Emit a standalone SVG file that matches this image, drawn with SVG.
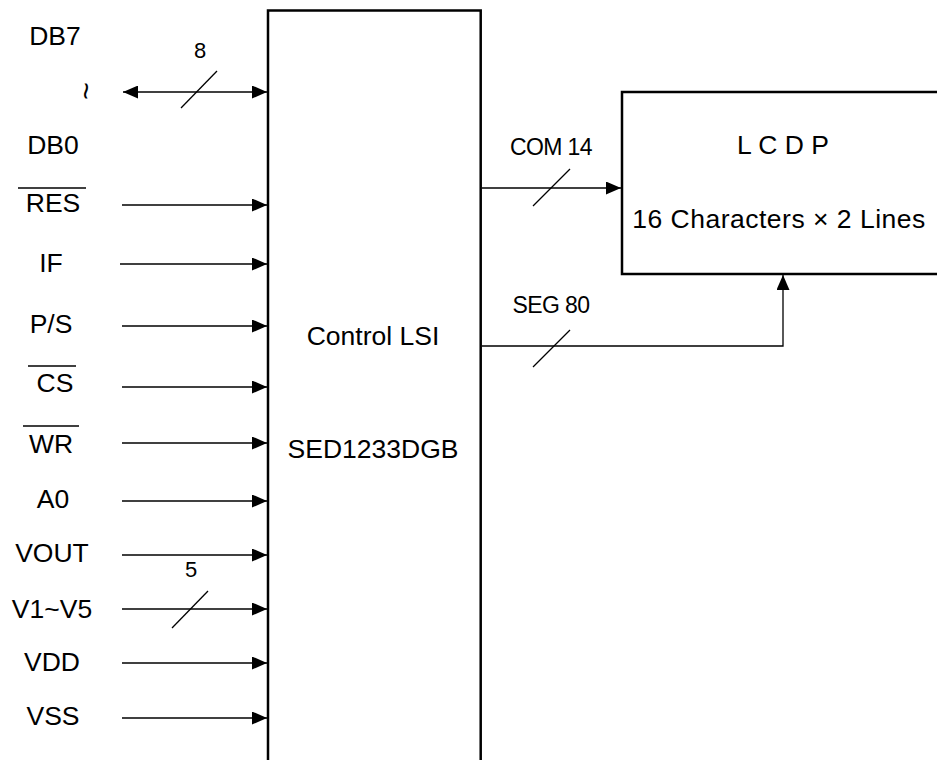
<svg xmlns="http://www.w3.org/2000/svg" width="937" height="760" viewBox="0 0 937 760">
<defs>
<marker id="ah" viewBox="0 0 15 13" refX="15" refY="6.5" markerWidth="15" markerHeight="13" markerUnits="userSpaceOnUse" orient="auto-start-reverse">
<path d="M0,0 L15,6.5 L0,13 Z" fill="#000"/>
</marker>
</defs>
<style>
text{font-family:"Liberation Sans",Arial,sans-serif;fill:#000}
.lbl{font-size:26.5px;text-anchor:middle}
.sm{font-size:22px;text-anchor:middle}
.bus{font-size:23px;text-anchor:middle;letter-spacing:-0.6px}
.box{fill:#fff;stroke:#000;stroke-width:2.5}
.w{stroke:#000;stroke-width:1.3;fill:none}
.ov{stroke:#000;stroke-width:1.5}
</style>
<rect width="937" height="760" fill="#fff"/>
<g id="control-lsi">
<rect class="box" x="268" y="10.5" width="212.7" height="760"/>
<text class="lbl" x="373" y="345">Control LSI</text>
<text class="lbl" x="373" y="458">SED1233DGB</text>
</g>
<g id="lcdp">
<rect class="box" x="622" y="92" width="330" height="182"/>
<text class="lbl" x="783" y="154">L C D P</text>
<text class="lbl" x="779" y="228" letter-spacing="0.5">16 Characters × 2 Lines</text>
</g>
<g id="labels">
<text class="lbl" x="55" y="45">DB7</text>
<text x="86" y="91" font-size="30" text-anchor="middle" transform="rotate(90 86 91)" dy="10">~</text>
<text class="lbl" x="53" y="154">DB0</text>
<text class="lbl" x="53" y="212">RES</text>
<line class="ov" x1="18" y1="188" x2="86" y2="188"/>
<text class="lbl" x="51" y="272">IF</text>
<text class="lbl" x="51" y="333">P/S</text>
<text class="lbl" x="55" y="392">CS</text>
<line class="ov" x1="28" y1="366" x2="76" y2="366"/>
<text class="lbl" x="51" y="453">WR</text>
<line class="ov" x1="23" y1="426" x2="79" y2="426"/>
<text class="lbl" x="53" y="508">A0</text>
<text class="lbl" x="52" y="562">VOUT</text>
<text class="lbl" x="52" y="618">V1~V5</text>
<text class="lbl" x="52" y="671">VDD</text>
<text class="lbl" x="53" y="725">VSS</text>
<text class="sm" x="200" y="58">8</text>
<text class="sm" x="191" y="577">5</text>
<text class="bus" x="551" y="155">COM 14</text>
<text class="bus" x="551" y="313">SEG 80</text>
</g>
<g id="connectors">
<line class="w" x1="123" y1="92" x2="267" y2="92" marker-start="url(#ah)" marker-end="url(#ah)"/>
<line class="w" x1="181" y1="108" x2="217" y2="71"/>
<line class="w" x1="122" y1="205" x2="267" y2="205" marker-end="url(#ah)"/>
<line class="w" x1="120" y1="264" x2="267" y2="264" marker-end="url(#ah)"/>
<line class="w" x1="122" y1="326" x2="267" y2="326" marker-end="url(#ah)"/>
<line class="w" x1="122" y1="387" x2="267" y2="387" marker-end="url(#ah)"/>
<line class="w" x1="122" y1="443" x2="267" y2="443" marker-end="url(#ah)"/>
<line class="w" x1="122" y1="501" x2="267" y2="501" marker-end="url(#ah)"/>
<line class="w" x1="122" y1="555" x2="267" y2="555" marker-end="url(#ah)"/>
<line class="w" x1="122" y1="609" x2="267" y2="609" marker-end="url(#ah)"/>
<line class="w" x1="172" y1="628" x2="208" y2="591"/>
<line class="w" x1="122" y1="663" x2="267" y2="663" marker-end="url(#ah)"/>
<line class="w" x1="122" y1="718" x2="267" y2="718" marker-end="url(#ah)"/>
<line class="w" x1="482" y1="188" x2="621" y2="188" marker-end="url(#ah)"/>
<line class="w" x1="533" y1="206" x2="570" y2="169"/>
<polyline class="w" points="482,346 783,346 783,275" marker-end="url(#ah)"/>
<line class="w" x1="533" y1="367" x2="570" y2="330"/>
</g>
</svg>
